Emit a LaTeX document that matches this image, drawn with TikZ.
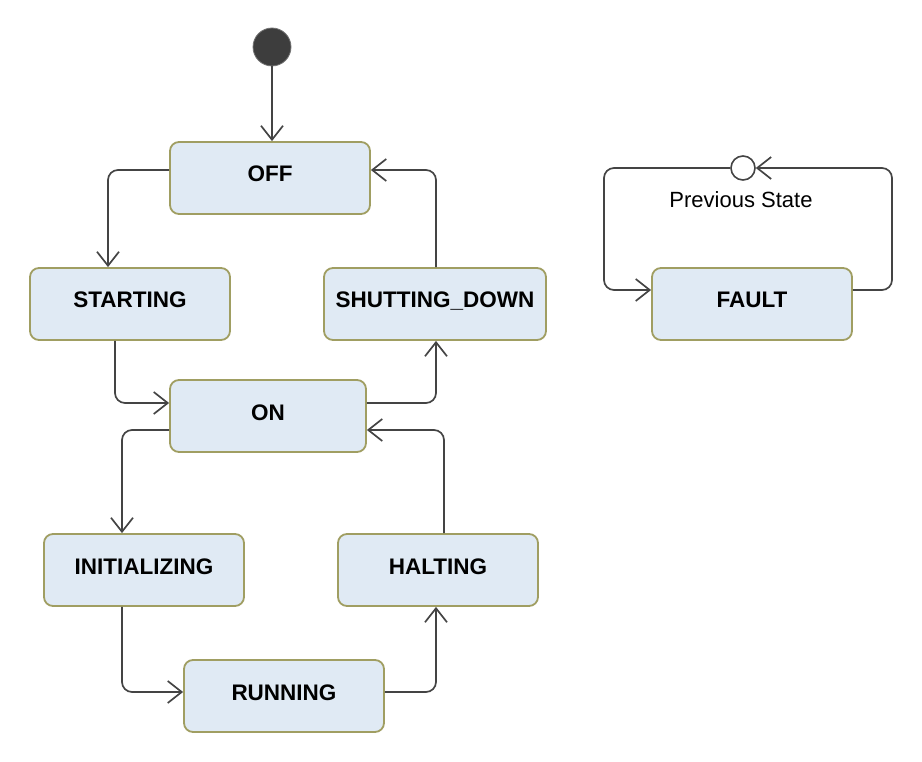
\documentclass[tikz,border=0pt]{standalone}
\usepackage{fontspec}
\setmainfont{Liberation Sans}
\usetikzlibrary{arrows.meta}
\definecolor{boxfill}{RGB}{224,234,244}
\definecolor{boxdraw}{RGB}{160,158,98}
\definecolor{linec}{RGB}{68,68,68}
\tikzset{
  state/.style={draw=boxdraw, fill=boxfill, line width=1.8pt, rounded corners=9pt,
    minimum width=200pt, minimum height=72pt, inner sep=0pt,
    font=\fontsize{22.5}{25}\selectfont\bfseries, text height=16pt, text depth=8pt},
  conn/.style={draw=linec, line width=1.7pt, rounded corners=10pt,
    -{Straight Barb[length=14pt,width=22pt,line width=1.7pt]}},
}
\begin{document}
\begin{tikzpicture}[x=1pt,y=1pt]
\useasboundingbox (0,0) rectangle (922,-762);
\node[circle, fill=black!76, draw=black!55, line width=0.8pt, minimum size=38pt, inner sep=0pt] (init) at (272,-47) {};
\node[state] (off) at (270,-178) {OFF};
\node[state] (starting) at (130,-304) {STARTING};
\node[state, minimum width=222pt] (shut) at (435,-304) {SHUTTING\_DOWN};
\node[state, minimum width=196pt] (on) at (268,-416) {ON};
\node[state] (initg) at (144,-570) {INITIALIZING};
\node[state] (halting) at (438,-570) {HALTING};
\node[state] (running) at (284,-696) {RUNNING};
\node[state] (fault) at (752,-304) {FAULT};
\node[circle, draw=linec, fill=white, line width=1.6pt, minimum size=24pt, inner sep=0pt] (prev) at (743,-168) {};
\node[font=\fontsize{22}{25}\selectfont] (prevlbl) at (741,-200) {Previous State};
\coordinate (fr) at (892,-168);
\coordinate (fl) at (604,-168);

\draw[conn] (init.south) -- (init.south |- off.north);
\draw[conn] ([yshift=8]off.west) -| ([xshift=-22]starting.north);
\draw[conn] ([xshift=-15]starting.south) |- ([yshift=13]on.west);
\draw[conn] ([yshift=13]on.east) -| ([xshift=1]shut.south);
\draw[conn] ([xshift=1]shut.north) |- ([yshift=8]off.east);
\draw[conn] ([yshift=-14]on.west) -| ([xshift=-22]initg.north);
\draw[conn] ([xshift=-22]initg.south) |- ([yshift=4]running.west);
\draw[conn] ([yshift=4]running.east) -| ([xshift=-2]halting.south);
\draw[conn] ([xshift=6]halting.north) |- ([yshift=-14]on.east);
\draw[conn] ([yshift=14]fault.east) -| (fr) -- (prev.east);
\draw[conn] (prev.west) -- (fl) |- ([yshift=14]fault.west);
\end{tikzpicture}
\end{document}
